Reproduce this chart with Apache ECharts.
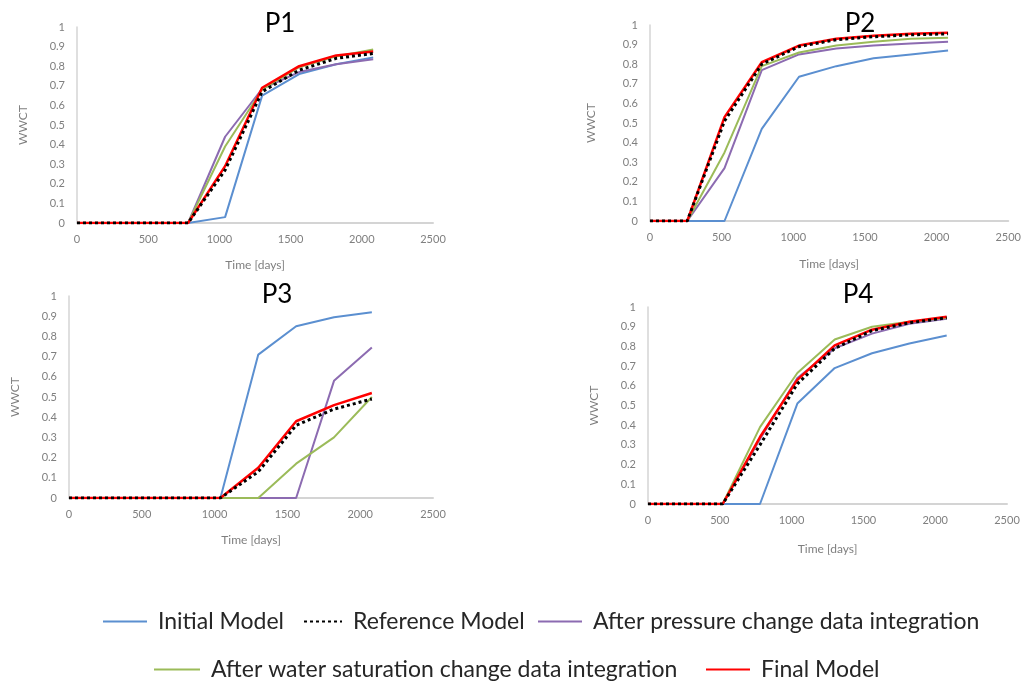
<!DOCTYPE html>
<html>
<head>
<meta charset="utf-8">
<script src="https://cdn.jsdelivr.net/npm/echarts@6/dist/echarts.min.js"></script>
<style>html,body{margin:0;padding:0;background:#fff;}#c{width:1024px;height:681px;}</style>
</head>
<body>
<div id="c"></div>
<script>
// ---- data ----
const days = [0, 260, 520, 780, 1040, 1300, 1560, 1820, 2080];
const seriesNames = ['Initial Model', 'Reference Model', 'After pressure change data integration', 'After water saturation change data integration', 'Final Model'];
const panelTitles = ['P1', 'P2', 'P3', 'P4'];
const xTicks = [0, 500, 1000, 1500, 2000, 2500];
const yTicks = [0, 0.1, 0.2, 0.3, 0.4, 0.5, 0.6, 0.7, 0.8, 0.9, 1];

// P1
const p1Initial   = [0, 0, 0, 0, 0.03, 0.65, 0.76, 0.81, 0.845];
const p1Reference = [0, 0, 0, 0, 0.27, 0.67, 0.78, 0.84, 0.865];
const p1Pressure  = [0, 0, 0, 0, 0.44, 0.685, 0.77, 0.81, 0.835];
const p1Water     = [0, 0, 0, 0, 0.39, 0.68, 0.795, 0.85, 0.885];
const p1Final     = [0, 0, 0, 0, 0.29, 0.69, 0.80, 0.855, 0.875];
// P2
const p2Initial   = [0, 0, 0, 0.47, 0.736, 0.79, 0.83, 0.85, 0.87];
const p2Reference = [0, 0, 0.51, 0.80, 0.89, 0.925, 0.94, 0.95, 0.955];
const p2Pressure  = [0, 0, 0.27, 0.77, 0.85, 0.88, 0.895, 0.905, 0.915];
const p2Water     = [0, 0, 0.35, 0.79, 0.86, 0.895, 0.915, 0.93, 0.935];
const p2Final     = [0, 0, 0.53, 0.81, 0.895, 0.93, 0.945, 0.955, 0.96];
// P3
const p3Initial   = [0, 0, 0, 0, 0, 0.71, 0.85, 0.895, 0.92];
const p3Reference = [0, 0, 0, 0, 0, 0.13, 0.36, 0.44, 0.49];
const p3Pressure  = [0, 0, 0, 0, 0, 0, 0, 0.58, 0.745];
const p3Water     = [0, 0, 0, 0, 0, 0, 0.17, 0.30, 0.50];
const p3Final     = [0, 0, 0, 0, 0, 0.15, 0.38, 0.46, 0.52];
// P4
const p4Initial   = [0, 0, 0, 0, 0.51, 0.69, 0.765, 0.815, 0.855];
const p4Reference = [0, 0, 0, 0.30, 0.61, 0.79, 0.88, 0.92, 0.945];
const p4Pressure  = [0, 0, 0, 0.33, 0.64, 0.79, 0.865, 0.915, 0.94];
const p4Water     = [0, 0, 0, 0.39, 0.665, 0.835, 0.90, 0.925, 0.945];
const p4Final     = [0, 0, 0, 0.34, 0.63, 0.805, 0.885, 0.925, 0.95];

const panels = [
  [p1Initial, p1Reference, p1Pressure, p1Water, p1Final],
  [p2Initial, p2Reference, p2Pressure, p2Water, p2Final],
  [p3Initial, p3Reference, p3Pressure, p3Water, p3Final],
  [p4Initial, p4Reference, p4Pressure, p4Water, p4Final]
];

// ---- layout / style ----
const grids = [
  {left: 77, top: 27, width: 356, height: 196},
  {left: 650, top: 25, width: 363, height: 196},
  {left: 69, top: 296, width: 364, height: 202},
  {left: 648, top: 307, width: 359, height: 197}
];
const titlePos = [[275, 6], [855, 6], [272, 277], [853, 277]];
const yNameGap = [48, 53, 48, 48];
const xNameGap = [36, 37, 36, 39];
const colors = ['#5B8FD0', '#000000', '#8C6BB1', '#9BBB59', '#FF0000'];
const widths = [2, 3, 2, 2, 2.5];
const zs = [2, 7, 3, 4, 5];
const font = 'Lato, "Open Sans", sans-serif';
const gray = '#7f7f7f';

const option = {
  animation: false,
  backgroundColor: '#fff',
  title: panelTitles.map((t, i) => ({
    text: t, left: titlePos[i][0], top: titlePos[i][1], textAlign: 'center',
    textStyle: {fontFamily: font, fontSize: 26, fontWeight: 'normal', color: '#000'}
  })),
  grid: grids.map(g => Object.assign({containLabel: false}, g)),
  xAxis: grids.map((g, i) => ({
    type: 'value', gridIndex: i, min: xTicks[0], max: xTicks[xTicks.length - 1], interval: 500,
    name: 'Time [days]', nameLocation: 'middle', nameGap: xNameGap[i],
    nameTextStyle: {fontFamily: font, fontSize: 12, color: gray},
    axisLine: {show: true, lineStyle: {color: '#d4d4d4', width: 2}},
    axisTick: {show: false}, splitLine: {show: false},
    axisLabel: {fontFamily: font, fontSize: 11, color: gray, margin: 11,
      formatter: v => String(v)}
  })),
  yAxis: grids.map((g, i) => ({
    type: 'value', gridIndex: i, min: yTicks[0], max: yTicks[yTicks.length - 1], interval: 0.1,
    name: 'WWCT', nameLocation: 'middle', nameGap: yNameGap[i], nameRotate: 90,
    nameTextStyle: {fontFamily: font, fontSize: 12, color: gray},
    axisLine: {show: true, lineStyle: {color: '#d4d4d4', width: 1.5}},
    axisTick: {show: false}, splitLine: {show: false},
    axisLabel: {fontFamily: font, fontSize: 11, color: gray, margin: 12,
      formatter: v => String(Math.round(v * 10) / 10)}
  })),
  legend: [
    {left: 97, top: 605, names: [0], w: 44},
    {left: 298, top: 605, names: [1], w: 38},
    {left: 532, top: 605, names: [2], w: 44},
    {left: 148, top: 653, names: [3], w: 46},
    {left: 700, top: 653, names: [4], w: 44}
  ].map(l => ({
    left: l.left, top: l.top, orient: 'horizontal',
    data: l.names.map(k => seriesNames[k]),
    itemWidth: l.w, itemHeight: 14, selectedMode: false,
    itemStyle: {opacity: 0},
    textStyle: {fontFamily: font, fontSize: 23, color: '#262626', padding: [0, 0, 0, 6]}
  })),
  series: []
};

panels.forEach((p, i) => {
  p.forEach((vals, k) => {
    option.series.push({
      type: 'line', name: seriesNames[k], xAxisIndex: i, yAxisIndex: i,
      data: days.map((d, j) => [d, vals[j]]),
      symbol: 'none', z: zs[k],
      itemStyle: {color: colors[k]},
      lineStyle: {color: colors[k], width: widths[k], type: k === 1 ? [3, 3] : 'solid'}
    });
  });
});

const chart = echarts.init(document.getElementById('c'), null, {renderer: 'canvas'});
chart.setOption(option);
</script>
</body>
</html>
